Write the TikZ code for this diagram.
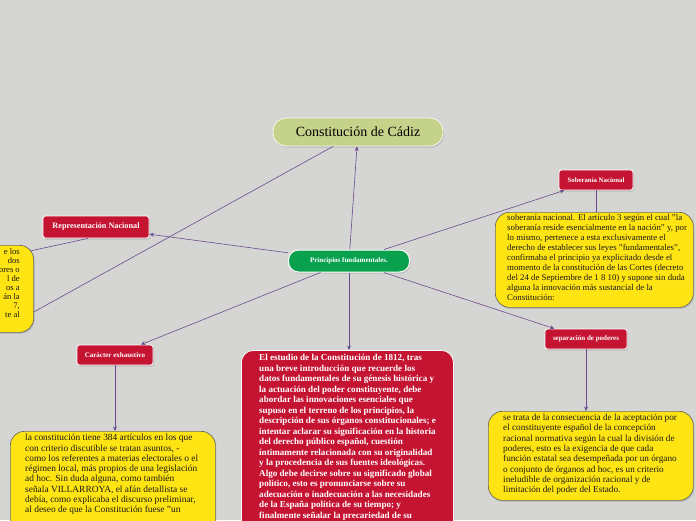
\documentclass[tikz,border=0pt]{standalone}
\usepackage{fontspec}
\setmainfont{Liberation Serif}
\usetikzlibrary{arrows.meta,shadows}
\definecolor{bgc}{HTML}{D5D6D3}
\definecolor{myred}{HTML}{C51432}
\definecolor{myyel}{HTML}{FFE414}
\definecolor{yelborder}{HTML}{6E6C5E}
\definecolor{titlegreen}{HTML}{C4D28A}
\definecolor{midgreen}{HTML}{0AA14E}
\definecolor{conncol}{HTML}{6B4A8E}
\begin{document}
\begin{tikzpicture}[x=1pt,y=-1pt,
  conn/.style={draw=conncol,line width=0.6pt},
  arr/.style={conn,-{Stealth[length=4.5pt,width=4pt]}},
  shd/.style={drop shadow={shadow xshift=1pt,shadow yshift=-1.5pt,opacity=0.3}},
  redlbl/.style={shd,rectangle,rounded corners=2.5pt,fill=myred,draw=white,line width=0.8pt,
    text=white,font=\bfseries\fontsize{7}{8}\selectfont,inner sep=0pt},
  yelbox/.style={shd,rectangle,rounded corners=14pt,fill=myyel,draw=yelborder,line width=0.7pt,inner sep=0pt},
  redbox/.style={shd,rectangle,rounded corners=12pt,fill=myred,draw=white,line width=0.8pt,inner sep=0pt},
  ytext/.style={anchor=north west,align=left,inner sep=0pt,text=black!90},
]
\useasboundingbox (0,0) rectangle (696,520);
\clip (0,0) rectangle (696,520);
\fill[bgc] (0,0) rectangle (696,520);

% boxes
\node[shd,rectangle,rounded corners=13pt,fill=titlegreen,draw=white!85!titlegreen,line width=0.8pt,
  minimum width=170pt,minimum height=28pt,inner sep=0pt,font=\fontsize{14}{16}\selectfont] (title) at (358,132) {Constitución de Cádiz};
\node[shd,rectangle,rounded corners=10pt,fill=midgreen,draw=white,line width=1pt,
  minimum width=121pt,minimum height=22pt,inner sep=0pt,text=white,font=\bfseries\fontsize{7}{8}\selectfont] (central) at (349,261) {Principios fundamentales.};

\node[redlbl,minimum width=106pt,minimum height=22pt] (repnac) at (96,227) {\fontsize{8.2}{9}\selectfont Representación Nacional};
\node[redlbl,minimum width=76pt,minimum height=20pt] (caracter) at (115,355) {Carácter exhaustivo};
\node[redlbl,minimum width=74pt,minimum height=20pt] (soberania) at (596,180) {\fontsize{6.8}{8}\selectfont Soberanía Nacional};
\node[redlbl,minimum width=82pt,minimum height=20pt] (separacion) at (586,339) {separación de poderes};

\node[yelbox,minimum width=70pt,minimum height=87pt,anchor=north east] (leftbox) at (34,245) {};
\node[yelbox,minimum width=198pt,minimum height=95pt,anchor=north west] (sobbox) at (495,212) {};
\node[yelbox,minimum width=205pt,minimum height=89pt,anchor=north west] (sepbox) at (488,411) {};
\node[yelbox,minimum width=205pt,minimum height=130pt,anchor=north west] (carbox) at (10,431) {};
\node[redbox,minimum width=212pt,minimum height=210pt,anchor=north west] (estbox) at (241,350) {};

% texts
\node[anchor=north east,align=right,inner sep=0pt,text=black!90,font=\fontsize{8.6}{9}\selectfont] (lefttext) at (20,248) {e los\\dos\\ores o\\l de\\os a\\án la\\7,\hspace{13.5pt}\\te al};

\node[ytext,font=\fontsize{8.8}{10}\selectfont] (sobtext) at (507,214.5) {soberanía nacional. El artículo 3 según el cual "la\\
soberanía reside esencialmente en la nación" y, por\\
lo mismo, pertenece a esta exclusivamente el\\
derecho de establecer sus leyes "fundamentales",\\
confirmaba el principio ya explicitado desde el\\
momento de la constitución de las Cortes (decreto\\
del 24 de Septiembre de 1 8 10) y supone sin duda\\
alguna la innovación más sustancial de la\\
Constitución:};

\node[ytext,font=\fontsize{9.2}{10.3}\selectfont] (septext) at (503,414) {se trata de la consecuencia de la aceptación por\\
el constituyente español de la concepción\\
racional normativa según la cual la división de\\
poderes, esto es la exigencia de que cada\\
función estatal sea desempeñada por un órgano\\
o conjunto de órganos ad hoc, es un criterio\\
ineludible de organización racional y de\\
limitación del poder del Estado.};

\node[ytext,font=\fontsize{9.4}{10.3}\selectfont] (cartext) at (25,434) {la constitución tiene 384 artículos en los que\\
con criterio discutible se tratan asuntos, -\\
como los referentes a materias electorales o el\\
régimen local, más propios de una legislación\\
ad hoc. Sin duda alguna, como también\\
señala VILLARROYA, el afán detallista se\\
debía, como explicaba el discurso preliminar,\\
al deseo de que la Constitución fuese "un};

\node[ytext,text=white,font=\bfseries\fontsize{9.1}{10.5}\selectfont] (esttext) at (259,354) {El estudio de la Constitución de 1812, tras\\
una breve introducción que recuerde los\\
datos fundamentales de su génesis histórica y\\
la actuación del poder constituyente, debe\\
abordar las innovaciones esenciales que\\
supuso en el terreno de los principios, la\\
descripción de sus órganos constitucionales; e\\
intentar aclarar su significación en la historia\\
del derecho público español, cuestión\\
íntimamente relacionada con su originalidad\\
y la procedencia de sus fuentes ideológicas.\\
Algo debe decirse sobre su significado global\\
político, esto es pronunciarse sobre su\\
adecuación o inadecuación a las necesidades\\
de la España política de su tiempo; y\\
finalmente señalar la precariedad de su};

% connectors
\draw[arr] (central) -- (title);
\draw[arr] (central) -- (repnac);
\draw[arr] (central) -- (soberania);
\draw[arr] (central) -- (separacion);
\draw[arr] (central) -- (caracter);
\draw[arr] (central.south) -- (central.south |- estbox.north);
\draw[conn] (soberania) -- (soberania |- sobbox.north);
\draw[arr] (separacion) -- (separacion |- sepbox.north);
\draw[arr] (caracter) -- (caracter |- carbox.north);
\draw[conn] ([xshift=-25pt]title.south) -- ([yshift=-23pt]leftbox.east);
\draw[conn] ([xshift=-4pt,yshift=-6pt]leftbox.north east) -- ([xshift=-8pt]repnac.south);
\end{tikzpicture}
\end{document}
